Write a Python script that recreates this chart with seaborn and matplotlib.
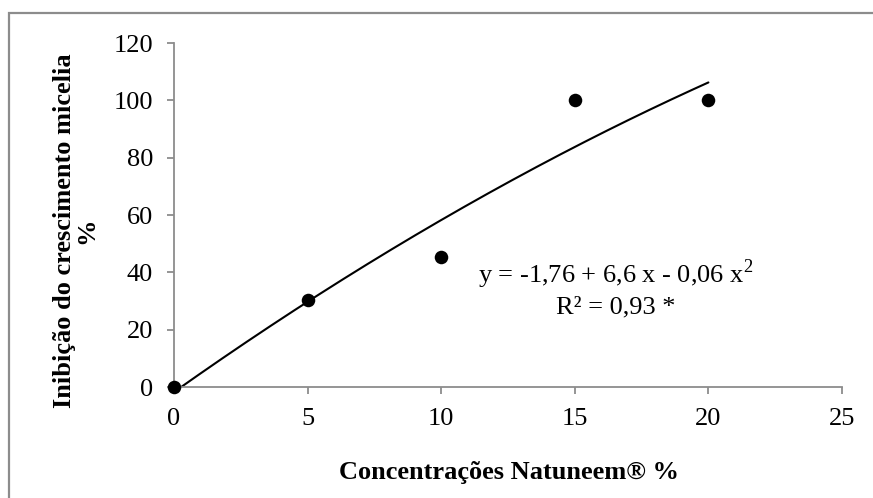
import numpy as np
import pandas as pd
import matplotlib
matplotlib.use("Agg")
import matplotlib.pyplot as plt
import seaborn as sns
from matplotlib.patches import Rectangle

# Data
concentracoes = [0, 5, 10, 15, 20]
inibicao = [0, 30.3, 45.4, 100, 100]
coef = [-1.76, 6.6, -0.06]  # y = b0 + b1 x + b2 x^2
x_ticks = [0, 5, 10, 15, 20, 25]
y_ticks = [0, 20, 40, 60, 80, 100, 120]
eq_text = "y = -1,76 + 6,6 x - 0,06 x$^2$"
r2_text = "R² = 0,93 *"
xlabel = "Concentrações Natuneem® %"
ylabel = "Inibição do crescimento micelia\n%"

sns.set_theme(style="white")
plt.rcParams['font.family'] = ['Liberation Serif', 'DejaVu Serif']
plt.rcParams['mathtext.fontset'] = 'custom'
plt.rcParams['mathtext.rm'] = 'Liberation Serif'

FS = 19
fig = plt.figure(figsize=(8.73, 4.98), dpi=100)
ax = fig.add_axes([174/873, 1-387/498, (842-174)/873, (387-43)/498])

df = pd.DataFrame({"x": concentracoes, "y": inibicao})
xs = np.linspace(min(concentracoes), max(concentracoes), 200)
fit = pd.DataFrame({"x": xs, "y": coef[0] + coef[1]*xs + coef[2]*xs**2})

sns.lineplot(data=fit, x="x", y="y", ax=ax, color="black", linewidth=1.5, zorder=2)
sns.scatterplot(data=df, x="x", y="y", ax=ax, color="black", s=95, edgecolor="black",
                linewidth=0, zorder=3, clip_on=False)

ax.set_xlim(0, 25)
ax.set_ylim(0, 120)
ax.set_xticks(x_ticks)
ax.set_yticks(y_ticks)
ax.set_xlabel("")
ax.set_ylabel("")
for s in ["top", "right"]:
    ax.spines[s].set_visible(False)
for s in ["left", "bottom"]:
    ax.spines[s].set_color("#8c8c8c")
    ax.spines[s].set_linewidth(1.3)
ax.tick_params(axis="both", which="major", direction="out", length=5, width=1.3,
               color="#8c8c8c", labelsize=FS, labelcolor="black",
               bottom=True, left=True)
ax.tick_params(axis="y", pad=10)
ax.tick_params(axis="x", pad=10)

fig.text((338+680)/2/873, 1-472/498, xlabel, ha="center", va="center",
         fontsize=FS, fontweight="bold", color="black")
fig.text(75.5/873, 1-231/498, ylabel, ha="center", va="center", rotation=90,
         fontsize=FS, fontweight="bold", color="black", linespacing=0.95,
         multialignment="center")

ax.text(616/873, 1-283/498, eq_text, transform=fig.transFigure, ha="center",
        va="baseline", fontsize=FS, color="black")
ax.text(616/873, 1-313/498, r2_text, transform=fig.transFigure, ha="center",
        va="baseline", fontsize=FS, color="black")

fig.patches.append(Rectangle((8.5/873, -0.2), 1.2, 0.2 + 1-13.5/498,
                             transform=fig.transFigure, fill=False,
                             edgecolor="#8c8c8c", linewidth=1.6))

fig.savefig("out.png", dpi=100)
